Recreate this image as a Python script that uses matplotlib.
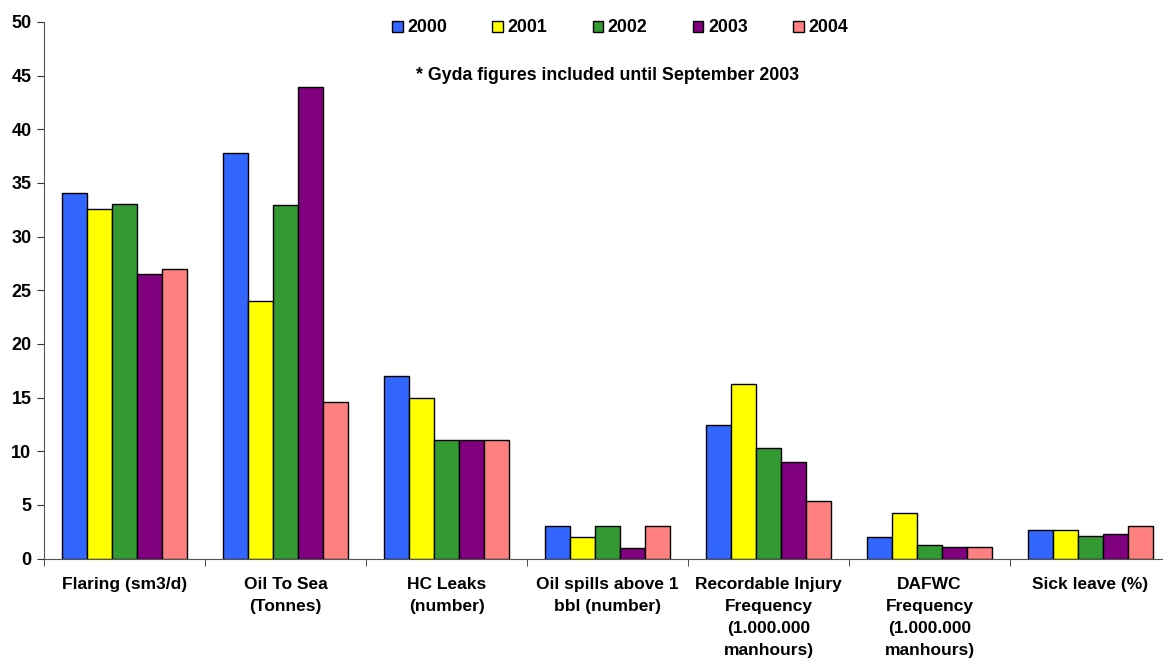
import numpy as np
import matplotlib.pyplot as plt

# categories and yearly values
categories = [
    "Flaring (sm3/d)",
    "Oil To Sea\n(Tonnes)",
    "HC Leaks\n(number)",
    "Oil spills above 1\nbbl (number)",
    "Recordable Injury\nFrequency\n(1.000.000\nmanhours)",
    "DAFWC\nFrequency\n(1.000.000\nmanhours)",
    "Sick leave (%)",
]
years = ["2000", "2001", "2002", "2003", "2004"]
v2000 = [34.1, 37.8, 17, 3, 12.4, 2.0, 2.7]
v2001 = [32.6, 24.0, 15, 2, 16.3, 4.2, 2.7]
v2002 = [33.0, 32.9, 11, 3, 10.3, 1.3, 2.1]
v2003 = [26.5, 43.9, 11, 1, 9.0, 1.1, 2.3]
v2004 = [27.0, 14.6, 11, 3, 5.4, 1.1, 3.0]
series = [v2000, v2001, v2002, v2003, v2004]
colors = ["#3366FF", "#FFFF00", "#339933", "#800080", "#FF8080"]

plt.rcParams['font.family'] = ['Liberation Sans', 'DejaVu Sans']
plt.rcParams['font.weight'] = 'bold'

fig = plt.figure(figsize=(11.63, 6.61), dpi=100)
ax = fig.add_axes([44 / 1163, 102.5 / 661, (1171 - 44) / 1163, 536.5 / 661])

x = np.arange(len(categories))
w = 0.155
for j, (vals, col, yr) in enumerate(zip(series, colors, years)):
    ax.bar(x + (j - 2) * w, vals, width=w, color=col, edgecolor="black",
           linewidth=1, label=yr, zorder=2)

ax.set_xlim(-0.5, 6.5)
ax.set_ylim(0, 50)
ax.set_yticks(np.arange(0, 51, 5))
ax.set_xticks(x)
ax.set_xticklabels(categories, fontsize=12.5, fontweight='bold', linespacing=1.6)
ax.set_xticks(np.arange(-0.5, 7, 1), minor=True)
ax.tick_params(axis='x', which='major', length=0, pad=13)
ax.tick_params(axis='x', which='minor', length=5, direction='out', color='#333333')
ax.tick_params(axis='y', length=5, direction='out', labelsize=13, color='#333333', pad=4)
for lab in ax.get_yticklabels():
    lab.set_fontweight('bold')
for s in ['top', 'right']:
    ax.spines[s].set_visible(False)
ax.spines['left'].set_color('#555555')
ax.spines['bottom'].set_color('#555555')

fig.legend(loc='center', bbox_to_anchor=(620 / 1163, 1 - 28 / 661), ncol=5,
           frameon=False, handlelength=0.6, handleheight=0.6,
           handletextpad=0.25, columnspacing=2.55,
           prop={'weight': 'bold', 'size': 12.8})
fig.text(608 / 1163, 1 - 75 / 661, "* Gyda figures included until September 2003",
         ha='center', va='center', fontsize=12.8, fontweight='bold')

fig.savefig("out.png", dpi=100)
